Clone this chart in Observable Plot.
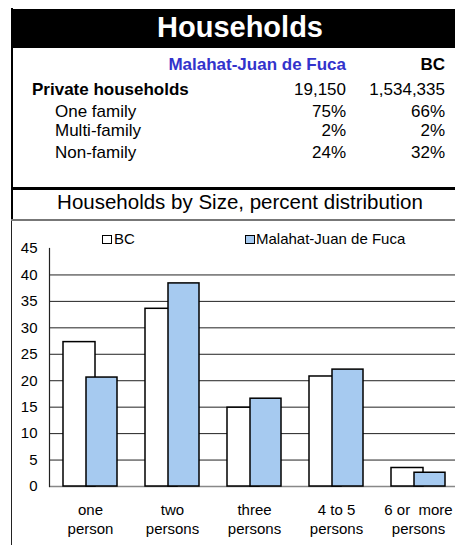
<!DOCTYPE html>
<html>
<head>
<meta charset="utf-8">
<script src="https://cdn.jsdelivr.net/npm/d3@7"></script>
<script src="https://cdn.jsdelivr.net/npm/@observablehq/plot@0.6"></script>
<style>
  html, body { margin: 0; padding: 0; width: 455px; height: 545px; overflow: hidden; background: #fff; }
  body { position: relative; font-family: "Liberation Sans", Arial, sans-serif; color: #000; }
  .abs { position: absolute; white-space: pre; }
  .t17 { font-size: 17px; line-height: 17px; }
</style>
</head>
<body>
<div id="page"></div>
<script>
// ---- data ----
const titleText = "Households";
const regionName = "Malahat-Juan de Fuca";
const provinceName = "BC";
const tableRows = ["Private households", "One family", "Multi-family", "Non-family"];
const regionTable = ["19,150", "75%", "2%", "24%"];
const provinceTable = ["1,534,335", "66%", "2%", "32%"];
const subtitleText = "Households by Size, percent distribution";

const categories = ["one person", "two persons", "three persons", "4 to 5 persons", "6 or more persons"];
const tickLabels = ["one\nperson", "two\npersons", "three\npersons", "4 to 5\npersons", "6 or  more\npersons"];
const bcValues = [27.3, 33.6, 14.9, 20.8, 3.5];
const mjfValues = [20.6, 38.4, 16.6, 22.1, 2.6];
const yTicks = [0, 5, 10, 15, 20, 25, 30, 35, 40, 45];
const gridTicks = [5, 10, 15, 20, 25, 30, 35, 40];

// ---- layout ----
const page = document.getElementById("page");
function el(tag, cls, style, text) {
  const e = document.createElement(tag);
  if (cls) e.className = cls;
  Object.assign(e.style, style);
  if (text != null) e.textContent = text;
  page.appendChild(e);
  return e;
}
// black header band
el("div", "abs", {left: "11px", top: "9px", width: "460px", height: "39px", background: "#000"});
el("div", "abs", {left: "11px", top: "12.5px", width: "458px", textAlign: "center", color: "#fff",
  fontSize: "29px", lineHeight: "29px", fontWeight: "bold"}, titleText);
// left borders
el("div", "abs", {left: "11px", top: "8px", width: "2px", height: "212px", background: "#000"});
el("div", "abs", {left: "11px", top: "220px", width: "1px", height: "325px", background: "#222"});
// table bottom line, subtitle bottom line
el("div", "abs", {left: "11px", top: "187px", width: "460px", height: "3px", background: "#000"});
el("div", "abs", {left: "11px", top: "219px", width: "460px", height: "1.5px", background: "#777"});

// table header
el("div", "abs t17", {left: "0px", width: "346px", top: "55.6px", textAlign: "right", fontWeight: "bold", color: "#3333cc"}, regionName);
el("div", "abs t17", {left: "0px", width: "445px", top: "55.6px", textAlign: "right", fontWeight: "bold"}, provinceName);
const rowTops = [80.6, 102.6, 121.6, 143.6];
tableRows.forEach((r, i) => {
  el("div", "abs t17", {left: i === 0 ? "32px" : "55px", top: rowTops[i] + "px", fontWeight: i === 0 ? "bold" : "normal"}, r);
  el("div", "abs t17", {left: "0px", width: "346px", top: rowTops[i] + "px", textAlign: "right"}, regionTable[i]);
  el("div", "abs t17", {left: "0px", width: "445px", top: rowTops[i] + "px", textAlign: "right"}, provinceTable[i]);
});
// subtitle
el("div", "abs", {left: "11px", width: "458px", top: "191.6px", textAlign: "center", fontSize: "20.5px", lineHeight: "20.5px"}, subtitleText);

// legend
el("div", "abs", {left: "102px", top: "234.5px", width: "7.5px", height: "7.5px", border: "1.5px solid #000", background: "#fff"});
el("div", "abs", {left: "114px", top: "231.3px", fontSize: "15px", lineHeight: "15px"}, provinceName);
el("div", "abs", {left: "245px", top: "234.5px", width: "7.5px", height: "7.5px", border: "1.5px solid #000", background: "#a6caf0"});
el("div", "abs", {left: "256px", top: "231.3px", fontSize: "15px", lineHeight: "15px"}, regionName);

// ---- chart ----
const data = categories.map((c, i) => ({cat: c, label: tickLabels[i], bc: bcValues[i], mjf: mjfValues[i]}));
const chart = Plot.plot({
  width: 469,
  height: 325,
  marginLeft: 49,
  marginRight: 10,
  marginTop: 28,
  marginBottom: 59,
  style: {fontFamily: "'Liberation Sans', Arial, sans-serif", fontSize: "15px", color: "#000", background: "transparent", overflow: "visible"},
  x: {domain: categories, paddingInner: 0.3415, paddingOuter: 0.1707, label: null},
  y: {domain: [0, 45], label: null},
  marks: [
    Plot.ruleY(gridTicks, {stroke: "#222", strokeWidth: 1}),
    Plot.ruleY([0], {stroke: "#888", strokeWidth: 1.5}),
    Plot.barY(data, {x: "cat", y: "bc", fill: "#fff", stroke: "#000", strokeWidth: 1.5, insetLeft: 0, insetRight: 22}),
    Plot.barY(data, {x: "cat", y: "mjf", fill: "#a6caf0", stroke: "#000", strokeWidth: 1.5, insetLeft: 23, insetRight: 0}),
    Plot.axisY({ticks: yTicks, tickSize: 0, tickPadding: 12, tickFormat: d => String(d), fill: "#000"}),
    Plot.axisX({tickSize: 0, tickPadding: 15, tickFormat: (d) => tickLabels[categories.indexOf(d)], lineHeight: 1.27, fill: "#000"}),
    Plot.frame({anchor: "left", stroke: "#222", strokeWidth: 1.2})
  ]
});
chart.style.position = "absolute";
chart.style.left = "0px";
chart.style.top = "220px";
chart.style.maxWidth = "none";
chart.style.width = "469px";
chart.style.height = "325px";
page.appendChild(chart);
</script>
</body>
</html>
